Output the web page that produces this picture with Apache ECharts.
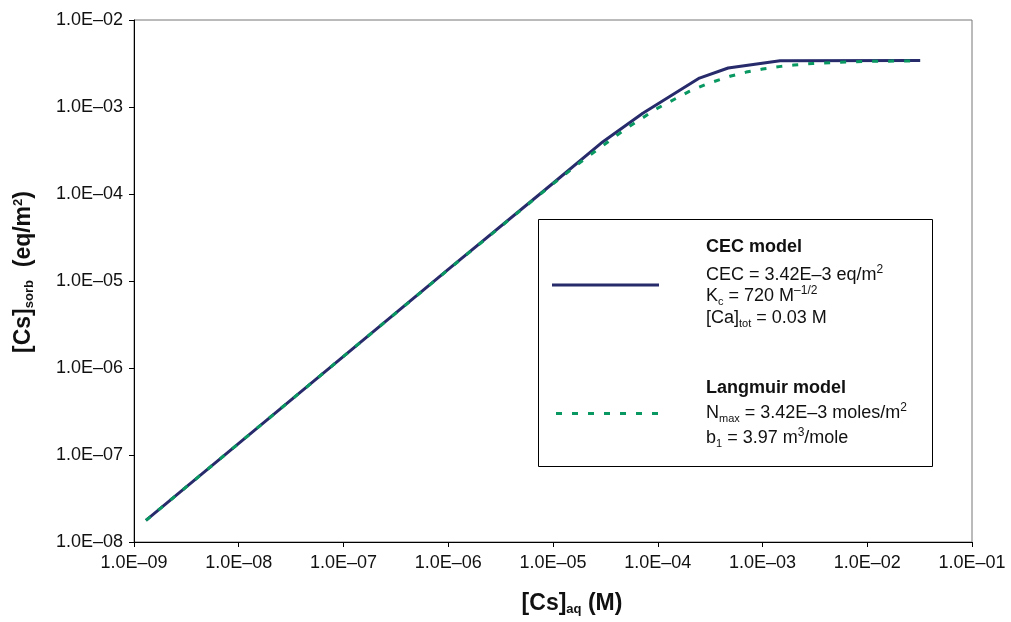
<!DOCTYPE html>
<html><head><meta charset="utf-8">
<script src="https://cdn.jsdelivr.net/npm/echarts@6/dist/echarts.min.js"></script>
<style>html,body{margin:0;padding:0;background:#fff}#c{width:1011px;height:622px}</style>
</head><body><div id="c"></div>
<script>
// CEC model curve
const cecX = [1.3e-9, 1e-8, 1e-7, 1e-6, 1e-5, 3.0e-5, 7.2e-5, 2.5e-4, 4.7e-4, 1.47e-3, 3.2e-2];
const cecY = [1.77e-8, 1.36e-7, 1.36e-6, 1.36e-5, 1.33e-4, 3.99e-4, 8.47e-4, 2.15e-3, 2.81e-3, 3.40e-3, 3.42e-3];
// Langmuir model curve
const langX = [1.3e-9, 1e-8, 1e-7, 1e-6, 1e-5, 2e-5, 5e-5, 1e-4, 2e-4, 3e-4, 5e-4, 7e-4, 1e-3, 1.5e-3, 2e-3, 3e-3, 5e-3, 1e-2, 2e-2, 3.2e-2];
const langY = [1.77e-8, 1.36e-7, 1.36e-6, 1.35e-5, 1.31e-4, 2.52e-4, 5.66e-4, 9.72e-4, 1.51e-3, 1.86e-3, 2.27e-3, 2.52e-3, 2.73e-3, 2.93e-3, 3.04e-3, 3.16e-3, 3.26e-3, 3.34e-3, 3.38e-3, 3.39e-3];
const xTickLabels = ['1.0E–09','1.0E–08','1.0E–07','1.0E–06','1.0E–05','1.0E–04','1.0E–03','1.0E–02','1.0E–01'];
const yTickLabels = ['1.0E–08','1.0E–07','1.0E–06','1.0E–05','1.0E–04','1.0E–03','1.0E–02'];

const FONT = '"Liberation Sans", Arial, Helvetica, sans-serif';
const NAVY = '#272b6b';
const GREEN = '#0a9862';
const chart = echarts.init(document.getElementById('c'));

const axisCommon = {
  type: 'log', logBase: 10,
  axisLine: { show: true, onZero: false, lineStyle: { color: '#000', width: 1 } },
  axisTick: { show: true, inside: false, length: 5, lineStyle: { color: '#000', width: 1 } },
  minorTick: { show: false },
  splitLine: { show: false },
  axisLabel: { fontSize: 18, color: '#111', fontFamily: FONT }
};

const legendMain = { fontSize: 18, fontFamily: FONT, fill: '#111', lineHeight: 22 };
const rich = {
  sub: { fontSize: 11, fontFamily: FONT, color: '#111', lineHeight: 6, verticalAlign: 'bottom' },
  sup: { fontSize: 12, fontFamily: FONT, color: '#111', lineHeight: 14, verticalAlign: 'top' },
  b: { fontSize: 18, fontFamily: FONT, color: '#111', fontWeight: 'bold', lineHeight: 22 }
};
function legText(y, text) {
  return { type: 'text', x: 706, y: y, z: 20,
    style: Object.assign({ text: text, rich: rich, align: 'left', verticalAlign: 'middle' }, legendMain) };
}

chart.setOption({
  animation: false,
  backgroundColor: '#fff',
  grid: { left: 134, right: 39, top: 20, bottom: 80, show: true, borderColor: '#777', borderWidth: 1 },
  xAxis: Object.assign({}, axisCommon, {
    min: 1e-9, max: 1e-1, interval: 1,
    axisLabel: Object.assign({}, axisCommon.axisLabel, { margin: 12,
      formatter: v => xTickLabels[Math.round(Math.log10(v)) + 9] })
  }),
  yAxis: Object.assign({}, axisCommon, {
    min: 1e-8, max: 1e-2, interval: 1,
    axisLabel: Object.assign({}, axisCommon.axisLabel, { margin: 11,
      formatter: v => yTickLabels[Math.round(Math.log10(v)) + 8] })
  }),
  series: [
    { name: 'CEC model', type: 'line', showSymbol: false, symbol: 'none', z: 2,
      data: cecX.map((x, i) => [x, cecY[i]]),
      lineStyle: { color: NAVY, width: 3 } },
    { name: 'Langmuir model', type: 'line', showSymbol: false, symbol: 'none', z: 3,
      data: langX.map((x, i) => [x, langY[i]]),
      lineStyle: { color: GREEN, width: 3, type: [6, 10] } }
  ],
  graphic: [
    { type: 'rect', z: 10, shape: { x: 538.5, y: 219.5, width: 394, height: 247 },
      style: { fill: '#fff', stroke: '#000', lineWidth: 1 } },
    { type: 'line', z: 20, shape: { x1: 552, y1: 285, x2: 659, y2: 285 },
      style: { stroke: NAVY, lineWidth: 3 } },
    { type: 'line', z: 20, shape: { x1: 556, y1: 413.5, x2: 659, y2: 413.5 },
      style: { stroke: GREEN, lineWidth: 3, lineDash: [6, 10] } },
    legText(247, '{b|CEC model}'),
    legText(275, 'CEC = 3.42E–3 eq/m{sup|2}'),
    legText(296, 'K{sub|c} = 720 M{sup|–1/2}'),
    legText(318, '[Ca]{sub|tot} = 0.03 M'),
    legText(388, '{b|Langmuir model}'),
    legText(413, 'N{sub|max} = 3.42E–3 moles/m{sup|2}'),
    legText(438, 'b{sub|1} = 3.97 m{sup|3}/mole'),
    { type: 'text', x: 572, y: 604, z: 20,
      style: { text: '[Cs]{s|aq} (M)', align: 'center', verticalAlign: 'middle',
        fontSize: 23, fontWeight: 'bold', fontFamily: FONT, fill: '#111', lineHeight: 24,
        rich: { s: { fontSize: 13, fontWeight: 'bold', fontFamily: FONT, color: '#111', lineHeight: 2, verticalAlign: 'bottom' } } } },
    { type: 'text', x: 24, y: 272, z: 20, rotation: Math.PI / 2,
      style: { text: '[Cs]{s|sorb}  (eq/m{p|2})', align: 'center', verticalAlign: 'middle',
        fontSize: 23, fontWeight: 'bold', fontFamily: FONT, fill: '#111', lineHeight: 24,
        rich: { s: { fontSize: 13, fontWeight: 'bold', fontFamily: FONT, color: '#111', lineHeight: 2, verticalAlign: 'bottom' },
                p: { fontSize: 13, fontWeight: 'bold', fontFamily: FONT, color: '#111', lineHeight: 12, verticalAlign: 'top' } } } }
  ]
});
</script>
</body></html>
